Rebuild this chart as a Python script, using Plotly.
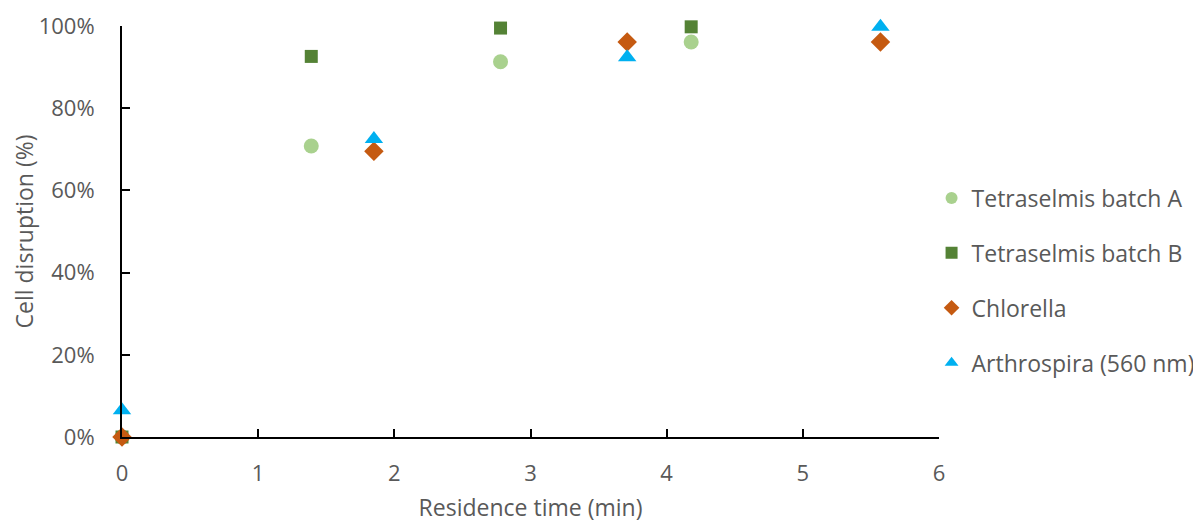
import plotly.graph_objects as go

series_names = ["Tetraselmis batch A", "Tetraselmis batch B", "Chlorella", "Arthrospira (560 nm)"]
tetra_a_x = [0, 1.39, 2.78, 4.18]
tetra_a_y = [0.0, 0.708, 0.913, 0.961]
tetra_b_x = [0, 1.39, 2.78, 4.18]
tetra_b_y = [0.0, 0.926, 0.995, 0.998]
chlorella_x = [0, 1.85, 3.71, 5.57]
chlorella_y = [0.0, 0.695, 0.961, 0.961]
arthro_x = [0, 1.85, 3.71, 5.57]
arthro_y = [0.065, 0.725, 0.924, 0.998]

colors = ["#A9D18E", "#548235", "#C55A11", "#00B0F0"]
symbols = ["circle", "square", "diamond", "triangle-up"]
sizes = [15, 13, 15, 16]

fig = go.Figure()
data = [(tetra_a_x, tetra_a_y), (tetra_b_x, tetra_b_y), (chlorella_x, chlorella_y), (arthro_x, arthro_y)]
for i, (xs, ys) in enumerate(data):
    fig.add_trace(go.Scatter(
        x=xs, y=ys, mode="markers", name=series_names[i],
        legendgroup=f"g{i}",
        marker=dict(color=colors[i], symbol=symbols[i], size=sizes[i], line=dict(width=0)),
        cliponaxis=False,
    ))

font_color = "#595959"
fig.update_layout(
    width=1201, height=523,
    paper_bgcolor="white", plot_bgcolor="white",
    margin=dict(l=114, r=270, t=18, b=94, autoexpand=False),
    font=dict(family="Open Sans, Lato, sans-serif", color=font_color, size=22),
    showlegend=True,
    legend=dict(
        xref="container", yref="container",
        x=0.769, xanchor="left", y=0.479, yanchor="middle",
        font=dict(size=23, color=font_color),
        tracegroupgap=22, itemsizing="constant",
        bgcolor="rgba(0,0,0,0)",
    ),
    xaxis=dict(
        range=[0, 6], dtick=1, tick0=0,
        showline=True, linecolor="black", linewidth=2,
        ticks="inside", ticklen=8, tickwidth=2, tickcolor="black",
        showgrid=False, zeroline=False,
        ticklabelstandoff=16,
        tickfont=dict(size=22, color=font_color),
        title=dict(text="Residence time (min)", font=dict(size=23, color=font_color), standoff=13),
    ),
    yaxis=dict(
        range=[0, 1], dtick=0.2, tickformat=".0%",
        showline=True, linecolor="black", linewidth=2,
        ticks="inside", ticklen=8, tickwidth=2, tickcolor="black",
        showgrid=False, zeroline=False,
        ticklabelstandoff=21,
        tickfont=dict(size=22, color=font_color),
        title=dict(text="Cell disruption (%)", font=dict(size=23, color=font_color), standoff=6),
    ),
)

fig.write_html("out.html")
